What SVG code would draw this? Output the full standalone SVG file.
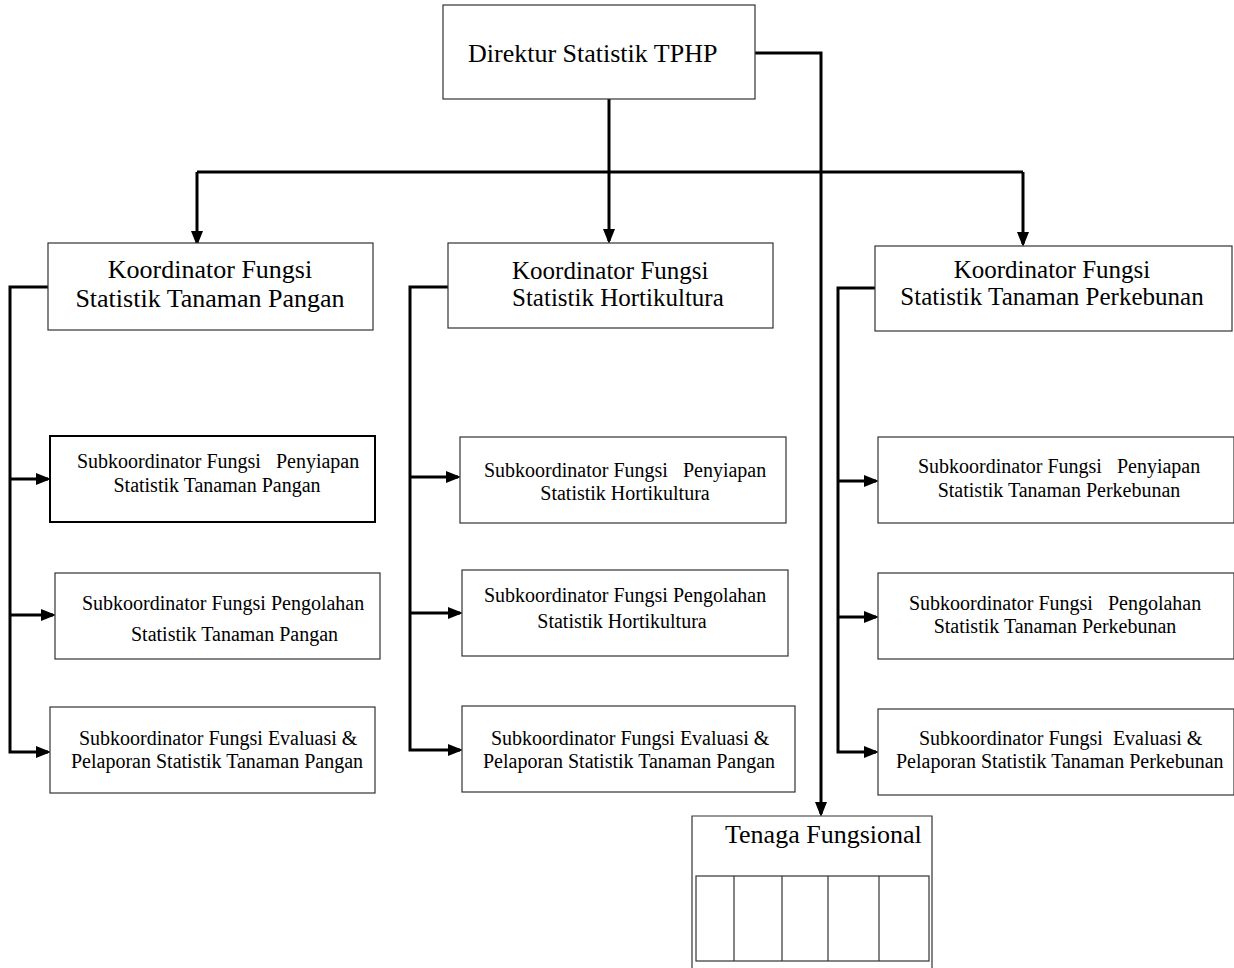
<svg xmlns="http://www.w3.org/2000/svg" width="1234" height="968" viewBox="0 0 1234 968">
<style>
.box{fill:#fff;stroke:#333;stroke-width:1.2}
.bold{stroke:#000;stroke-width:2}
.t{font-family:"Liberation Serif","Times New Roman",serif;fill:#000}
.big{font-size:26px}
.kd{font-size:25px}
.sm{font-size:20px}
.c{fill:none;stroke:#000;stroke-width:3}
</style>
<defs>
<marker id="ah" markerWidth="5" markerHeight="4" refX="4" refY="2" orient="auto" markerUnits="strokeWidth">
<path d="M0,0 L5,2 L0,4 Z" fill="#000"/>
</marker>
</defs>
<rect width="1234" height="968" fill="#fff"/>

<g id="connectors">
<path class="c" d="M609,99 V172"/>
<path class="c" d="M197,172 H1023"/>
<path class="c" d="M197,172 V243" marker-end="url(#ah)"/>
<path class="c" d="M609,172 V241" marker-end="url(#ah)"/>
<path class="c" d="M1023,172 V244" marker-end="url(#ah)"/>
<path class="c" d="M755,53 H821 V814" marker-end="url(#ah)"/>
<path class="c" d="M48,287 H10 V752 H48" marker-end="url(#ah)"/>
<path class="c" d="M10,479 H48" marker-end="url(#ah)"/>
<path class="c" d="M10,615 H53" marker-end="url(#ah)"/>
<path class="c" d="M448,287 H410 V750 H460" marker-end="url(#ah)"/>
<path class="c" d="M410,477 H458" marker-end="url(#ah)"/>
<path class="c" d="M410,613 H460" marker-end="url(#ah)"/>
<path class="c" d="M875,288 H838 V752 H876" marker-end="url(#ah)"/>
<path class="c" d="M838,481 H876" marker-end="url(#ah)"/>
<path class="c" d="M838,617 H876" marker-end="url(#ah)"/>
</g>

<g id="direktur">
<rect class="box" x="443" y="5" width="312" height="94"/>
<text class="t big" x="468" y="62">Direktur Statistik TPHP</text>
</g>

<g id="koord-pangan">
<rect class="box" x="48" y="243" width="325" height="87"/>
<text class="t big" x="210" y="278" text-anchor="middle">Koordinator Fungsi</text>
<text class="t big" x="210" y="307" text-anchor="middle">Statistik Tanaman Pangan</text>
</g>

<g id="koord-horti">
<rect class="box" x="448" y="243" width="325" height="85"/>
<text class="t kd" x="512" y="279">Koordinator Fungsi</text>
<text class="t kd" x="512" y="306">Statistik Hortikultura</text>
</g>

<g id="koord-perkebunan">
<rect class="box" x="875" y="246" width="357" height="85"/>
<text class="t kd" x="1052" y="278" text-anchor="middle">Koordinator Fungsi</text>
<text class="t kd" x="1052" y="305" text-anchor="middle">Statistik Tanaman Perkebunan</text>
</g>

<g id="sub-pangan-1">
<rect class="box bold" x="50" y="436" width="325" height="86"/>
<text class="t sm" x="77" y="468" xml:space="preserve">Subkoordinator Fungsi   Penyiapan</text>
<text class="t sm" x="217" y="492" text-anchor="middle">Statistik Tanaman Pangan</text>
</g>
<g id="sub-pangan-2">
<rect class="box" x="55" y="573" width="325" height="86"/>
<text class="t sm" x="82" y="610">Subkoordinator Fungsi Pengolahan</text>
<text class="t sm" x="131" y="641">Statistik Tanaman Pangan</text>
</g>
<g id="sub-pangan-3">
<rect class="box" x="50" y="707" width="325" height="86"/>
<text class="t sm" x="79" y="745">Subkoordinator Fungsi Evaluasi &amp;</text>
<text class="t sm" x="71" y="768">Pelaporan Statistik Tanaman Pangan</text>
</g>

<g id="sub-horti-1">
<rect class="box" x="460" y="437" width="326" height="86"/>
<text class="t sm" x="484" y="477" xml:space="preserve">Subkoordinator Fungsi   Penyiapan</text>
<text class="t sm" x="625" y="500" text-anchor="middle">Statistik Hortikultura</text>
</g>
<g id="sub-horti-2">
<rect class="box" x="462" y="570" width="326" height="86"/>
<text class="t sm" x="484" y="602">Subkoordinator Fungsi Pengolahan</text>
<text class="t sm" x="622" y="628" text-anchor="middle">Statistik Hortikultura</text>
</g>
<g id="sub-horti-3">
<rect class="box" x="462" y="706" width="333" height="86"/>
<text class="t sm" x="491" y="745">Subkoordinator Fungsi Evaluasi &amp;</text>
<text class="t sm" x="483" y="768">Pelaporan Statistik Tanaman Pangan</text>
</g>

<g id="sub-perkebunan-1">
<rect class="box" x="878" y="437" width="356" height="86"/>
<text class="t sm" x="918" y="473" xml:space="preserve">Subkoordinator Fungsi   Penyiapan</text>
<text class="t sm" x="1059" y="497" text-anchor="middle">Statistik Tanaman Perkebunan</text>
</g>
<g id="sub-perkebunan-2">
<rect class="box" x="878" y="573" width="356" height="86"/>
<text class="t sm" x="909" y="610" xml:space="preserve">Subkoordinator Fungsi   Pengolahan</text>
<text class="t sm" x="1055" y="633" text-anchor="middle">Statistik Tanaman Perkebunan</text>
</g>
<g id="sub-perkebunan-3">
<rect class="box" x="878" y="709" width="356" height="86"/>
<text class="t sm" x="919" y="745" xml:space="preserve">Subkoordinator Fungsi  Evaluasi &amp;</text>
<text class="t sm" x="896" y="768">Pelaporan Statistik Tanaman Perkebunan</text>
</g>

<g id="tenaga-fungsional">
<path class="box" d="M692,968 V816 H932 V968"/>
<text class="t big" x="725" y="843">Tenaga Fungsional</text>
<rect class="box" x="696" y="876" width="233" height="85"/>
<path class="box" d="M734,876 V961 M782,876 V961 M828,876 V961 M879,876 V961"/>
</g>
</svg>
